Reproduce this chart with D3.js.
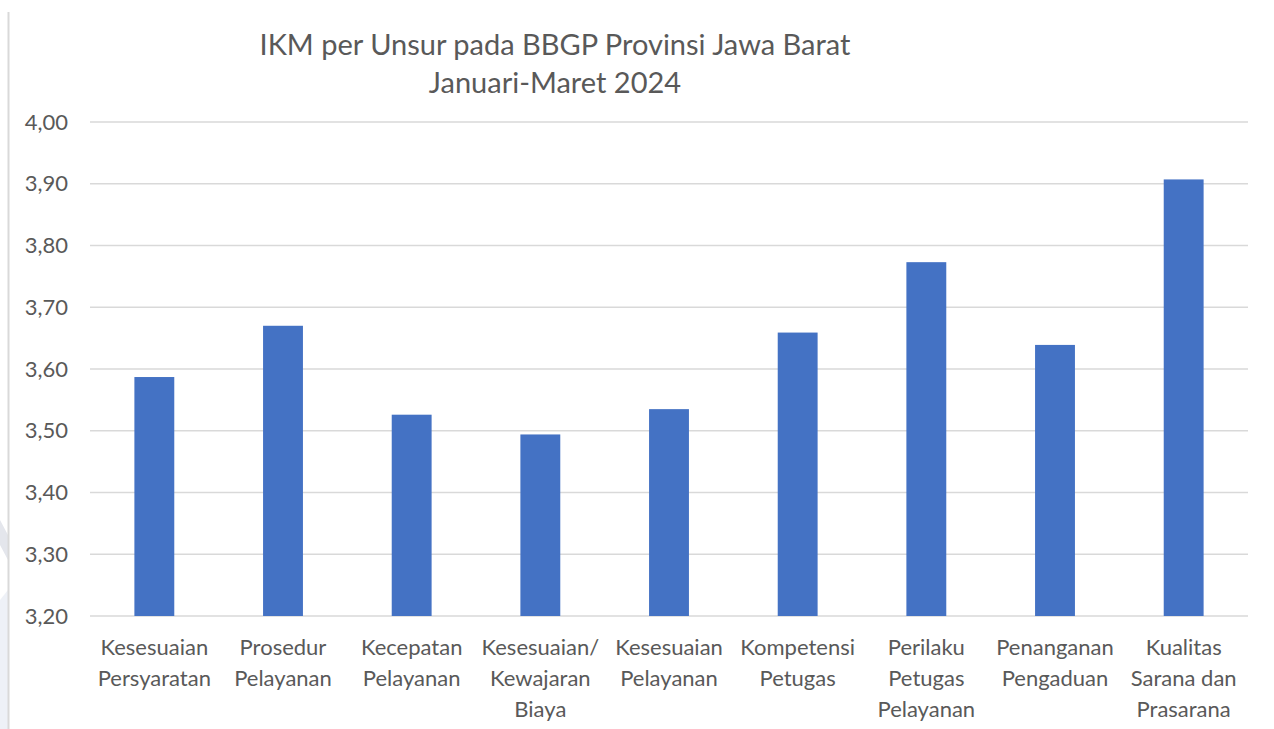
<!DOCTYPE html>
<html>
<head>
<meta charset="utf-8">
<script src="https://cdn.jsdelivr.net/npm/d3@7"></script>
<style>
  body { margin: 0; background: #fff; }
  svg text { font-family: Lato, "Open Sans", sans-serif; fill: #595959; }
</style>
</head>
<body>
<script>
// Data
const categories = [
    ["Kesesuaian", "Persyaratan"],
    ["Prosedur", "Pelayanan"],
    ["Kecepatan", "Pelayanan"],
    ["Kesesuaian/", "Kewajaran", "Biaya"],
    ["Kesesuaian", "Pelayanan"],
    ["Kompetensi", "Petugas"],
    ["Perilaku", "Petugas", "Pelayanan"],
    ["Penanganan", "Pengaduan"],
    ["Kualitas", "Sarana dan", "Prasarana"]
];
const values = [3.587, 3.670, 3.526, 3.494, 3.535, 3.659, 3.773, 3.639, 3.907];
const yTicks = [3.2, 3.3, 3.4, 3.5, 3.6, 3.7, 3.8, 3.9, 4.0];
const titleLines = ["IKM per Unsur pada BBGP Provinsi Jawa Barat", "Januari-Maret 2024"];

const width = 1274, height = 729;
const svg = d3.select("body").append("svg")
    .attr("width", width)
    .attr("height", height);

// borde izquierdo y marca de agua
svg.append("path").attr("d", "M0,520 L8,535 L8,560 L0,545 Z").attr("fill", "#e4e6ec");
svg.append("path").attr("d", "M0,600 L8,590 L8,729 L0,729 Z").attr("fill", "#eef1f7");
svg.append("line").attr("x1", 8.5).attr("x2", 8.5).attr("y1", 12).attr("y2", 729)
    .attr("stroke", "#d9d9d9").attr("stroke-width", 2);

const x = d3.scaleBand()
    .domain(d3.range(categories.length))
    .range([90, 1248])
    .paddingInner(0.69)
    .paddingOuter(0.345);

const y = d3.scaleLinear()
    .domain([3.2, 4.0])
    .range([616, 122]);

// líneas de cuadrícula
svg.append("g").selectAll("line")
    .data(yTicks)
    .join("line")
    .attr("x1", 90).attr("x2", 1248)
    .attr("y1", d => y(d)).attr("y2", d => y(d))
    .attr("stroke", "#d9d9d9").attr("stroke-width", 1.3);

// etiquetas eje Y
svg.append("g").selectAll("text")
    .data(yTicks)
    .join("text")
    .attr("x", 68)
    .attr("y", d => y(d))
    .attr("dy", "0.35em")
    .attr("text-anchor", "end")
    .style("font-size", "22px")
    .text(d => d3.format(".2f")(d).replace(".", ","));

// barras
svg.append("g").selectAll("rect")
    .data(values)
    .join("rect")
    .attr("x", (d, i) => x(i))
    .attr("width", x.bandwidth())
    .attr("y", d => y(d))
    .attr("height", d => y(3.2) - y(d))
    .attr("fill", "#4472c4");

// etiquetas de categorías
const cat = svg.append("g").selectAll("text")
    .data(categories)
    .join("text")
    .attr("text-anchor", "middle")
    .style("font-size", "22px");
cat.each(function (lines, i) {
    d3.select(this).selectAll("tspan")
        .data(lines)
        .join("tspan")
        .attr("x", x(i) + x.bandwidth() / 2)
        .attr("y", (l, j) => 655 + j * 31)
        .text(l => l);
});

// título
svg.append("g").selectAll("text")
    .data(titleLines)
    .join("text")
    .attr("x", 555)
    .attr("y", (d, i) => 55 + i * 38)
    .attr("text-anchor", "middle")
    .style("font-size", "29px")
    .text(d => d);
</script>
</body>
</html>
